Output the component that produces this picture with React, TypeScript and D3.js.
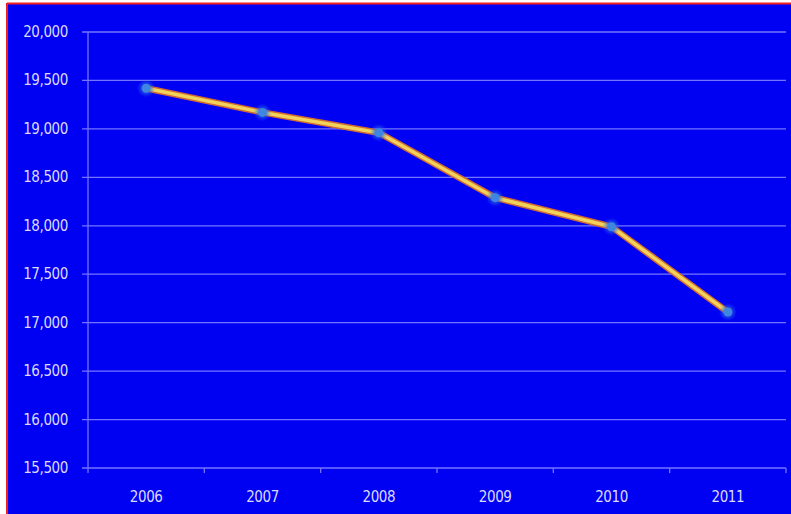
import React from "react";
import * as d3 from "d3";

const years = ["2006", "2007", "2008", "2009", "2010", "2011"];
const values = [19420, 19170, 18960, 18290, 17990, 17110];
const yTicks = [15500, 16000, 16500, 17000, 17500, 18000, 18500, 19000, 19500, 20000];

export default function App() {
  const W = 791, H = 514;
  const left = 88, right = 786, top = 32, bottom = 468;
  const x = d3.scaleBand<string>().domain(years).range([left, right]);
  const y = d3.scaleLinear().domain([15500, 20000]).range([bottom, top]);
  const fmt = d3.format(",");
  const line = d3.line<number>().x((_, i) => (x(years[i]) as number) + x.bandwidth() / 2).y((d) => y(d));
  const path = line(values) || "";
  const boundaries = years.map((_, i) => left + i * x.step()).concat([right]);
  const font = "'Liberation Sans Narrow', 'DejaVu Sans Condensed', Arial, sans-serif";
  return (
    <svg width={W} height={H} style={{ position: "absolute", left: 0, top: 0 }}>
      <defs>
        <filter id="glow" x="-1" y="-1" width="3" height="3">
          <feGaussianBlur stdDeviation="1.5" />
        </filter>
        <filter id="soft" x="-0.1" y="-0.5" width="1.2" height="2">
          <feGaussianBlur stdDeviation="0.6" />
        </filter>
      </defs>
      <rect x={0} y={0} width={W} height={H} fill="#ffffff" />
      <rect x={8} y={4} width={W - 8} height={H - 4} fill="#0000F2" />
      <line x1={7} x2={W} y1={3.5} y2={3.5} stroke="#F02020" strokeWidth={2} />
      <line x1={7} x2={7} y1={3} y2={H} stroke="#F02020" strokeWidth={2} />
      {yTicks.map((t) => (
        <g key={t}>
          <line x1={left - 6} x2={right} y1={y(t)} y2={y(t)} stroke="#7474FF" strokeWidth={1.3} />
          <text x={68} y={y(t) + 5} textAnchor="end" fill="#DADAFF" fontFamily={font} fontSize={15} style={{ letterSpacing: "-0.4px" }}>
            {fmt(t)}
          </text>
        </g>
      ))}
      <line x1={left} x2={left} y1={top} y2={bottom} stroke="#7474FF" strokeWidth={1.3} />
      {boundaries.map((b, i) => (
        <line key={i} x1={b} x2={b} y1={bottom} y2={bottom + 5} stroke="#7474FF" strokeWidth={1.3} />
      ))}
      {years.map((yr) => (
        <text key={yr} x={(x(yr) as number) + x.bandwidth() / 2} y={502} textAnchor="middle" fill="#DADAFF" fontFamily={font} fontSize={15} style={{ letterSpacing: "-0.4px" }}>
          {yr}
        </text>
      ))}
      <path d={path} fill="none" stroke="#D06A30" strokeWidth={6.5} strokeLinejoin="round" filter="url(#soft)" />
      <path d={path} fill="none" stroke="#F2D25A" strokeWidth={3.5} strokeLinejoin="round" />
      {values.map((v, i) => (
        <g key={i}>
          <circle cx={(x(years[i]) as number) + x.bandwidth() / 2} cy={y(v)} r={7} fill="#2A6AE8" opacity={0.6} filter="url(#glow)" />
          <circle cx={(x(years[i]) as number) + x.bandwidth() / 2} cy={y(v)} r={4.5} fill="#3F86E0" />
        </g>
      ))}
    </svg>
  );
}
